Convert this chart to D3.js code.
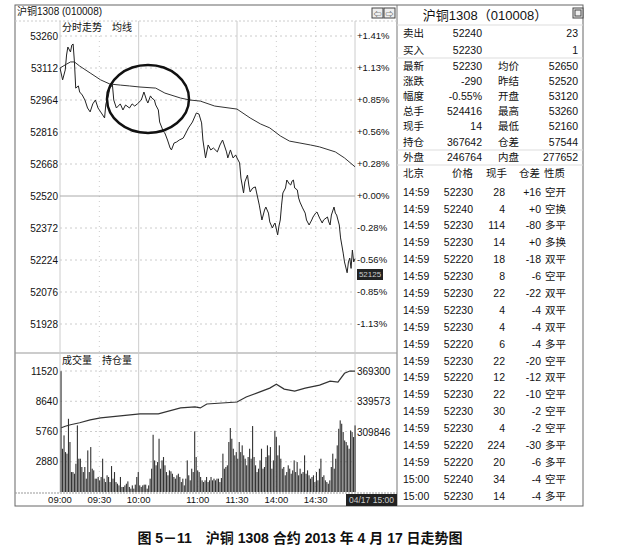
<!DOCTYPE html>
<html>
<head>
<meta charset="utf-8">
<script src="https://cdn.jsdelivr.net/npm/d3@7"></script>
<style>
body{margin:0;background:#fff;}
text{font-family:"Liberation Sans",Arial,"Noto Sans CJK SC",sans-serif;fill:#111;}
</style>
</head>
<body>
<svg width="620" height="550"></svg>
<script>
const svg = d3.select("svg");

// ---- data ----
const priceTicks = [53260,53112,52964,52816,52668,52520,52372,52224,52076,51928];
const pctLabels = ["+1.41%","+1.13%","+0.85%","+0.56%","+0.28%","+0.00%","-0.28%","-0.56%","-0.85%","-1.13%"];
const volTicks = [11520,8640,5760,2880];
const oiTicks = [369300,339573,309846];
const timeLabels = ["09:00","09:30","10:00","11:00","11:30","14:00","14:30"];
const timeMinutes = [0,30,60,105,135,165,195];

// [minute of session, price]
const priceLine = [[0,53112],[2,53057],[4,53103],[5,53172],[6,53209],[8,53186],[9,53218],[10,53223],[11,53140],[12,53019],
  [14,53029],[15,53001],[17,52987],[19,52964],[21,52927],[23,52909],[25,52946],[27,52964],[29,52927],[31,52909],[34,52881],
  [35,52946],[37,52987],[38,53019],[40,53033],[41,52964],[43,52927],[46,52946],[48,52918],[50,52941],[53,52927],[55,52946],
  [57,52936],[59,52946],[62,52964],[64,53001],[66,52964],[67,52950],[69,52983],[70,52973],[72,52964],[73,52941],[75,52918],
  [76,52862],[79,52816],[80,52811],[82,52779],[84,52742],[85,52733],[87,52765],[89,52770],[91,52779],[94,52788],[96,52811],
  [98,52835],[101,52862],[103,52890],[104,52904],[106,52899],[108,52858],[109,52779],[111,52696],[113,52756],[115,52733],
  [117,52742],[120,52724],[122,52756],[124,52779],[127,52724],[128,52696],[130,52733],[132,52696],[134,52710],[135,52696],
  [137,52673],[138,52603],[140,52534],[141,52585],[143,52617],[144,52571],[145,52539],[147,52557],[149,52562],[150,52534],
  [152,52478],[154,52409],[156,52455],[157,52469],[159,52441],[160,52400],[162,52372],[163,52386],[164,52395],[166,52340],
  [167,52381],[168,52409],[169,52478],[170,52534],[172,52557],[173,52594],[175,52575],[176,52571],[177,52589],[178,52594],
  [179,52557],[181,52548],[182,52511],[183,52492],[185,52465],[187,52441],[188,52409],[190,52386],[192,52409],[193,52423],
  [195,52441],[196,52446],[198,52418],[200,52395],[201,52409],[204,52423],[205,52400],[206,52386],[207,52432],[209,52469],
  [210,52441],[211,52432],[213,52386],[214,52326],[216,52256],[217,52215],[219,52165],[220,52215],[221,52233],[222,52185],
  [223,52270],[224,52215],[225,52230]];

const avgLine = [[0,53112],[5,53130],[8,53140],[11,53140],[15,53121],[23,53089],[31,53057],[38,53038],[46,53033],[53,53029],
  [61,53024],[73,53019],[80,52996],[92,52973],[99,52964],[107,52959],[118,52936],[135,52922],[145,52881],[153,52853],
  [160,52835],[168,52798],[175,52774],[183,52765],[191,52756],[198,52747],[210,52724],[217,52696],[225,52655]];

const oiLine = [[1,314000],[4,315500],[8,316900],[15,318830],[23,321725],[31,323655],[46,325585],[61,327515],[75,327515],
  [92,333305],[103,334270],[107,333305],[112,337165],[135,339095],[142,343920],[152,348745],[160,352605],[165,356465],
  [171,351640],[179,349710],[187,352605],[198,355500],[206,359360],[212,358395],[217,367080],[221,369300],[225,369100]];

const volumes = [11500,4120,5390,3800,3650,6970,4760,1900,1900,1740,2690,6340,3170,3170,2380,1900,2380,1270,3960,1900,
  4280,2220,2060,1270,1270,1430,1110,1430,3170,1270,950,1590,1430,950,2470,1270,1900,950,790,630,1430,480,480,630,790,
  1010,480,320,630,320,700,1430,1900,630,480,630,700,700,320,630,1270,2220,5450,3010,2540,2850,5070,2220,3010,3330,2540,
  1900,1590,2060,1970,1740,1430,1270,1590,1740,1430,950,1270,630,1270,3010,1590,1110,2220,1900,5770,3330,2060,1900,1430,
  1110,950,1110,1430,950,1110,1430,1110,1270,1110,1270,1270,950,1330,3650,2220,2380,2540,4760,6090,5070,4120,3490,3800,
  3170,4760,3800,4440,3490,3170,2540,3330,4120,3170,6280,3330,2540,1900,2220,3010,4120,2220,2380,3330,4440,3490,4280,2220,
  3010,5830,5230,3490,4440,3170,2220,2380,1590,1900,2540,2220,1740,2060,3010,1900,2850,1590,2220,1740,1900,3490,1740,2060,
  1590,1270,1430,1590,950,1900,1110,2220,3170,1430,1590,1110,950,790,1110,2380,3650,2220,3170,4440,6020,6820,6500,5710,
  4910,4760,4440,4120,5860,5710,5230,6340];

// right-hand quote table
const quoteLabels = ["卖出","买入","最新","涨跌","幅度","总手","现手","持仓","外盘"];
const quoteValues = ["52240","52230","52230","-290","-0.55%","524416","14","367642","246764"];
const quoteLabels2 = ["","","均价","昨结","开盘","最高","最低","仓差","内盘"];
const quoteValues2 = ["23","1","52650","52520","53120","53260","52160","57544","277652"];
const tradeHeader = ["北京","价格","现手","仓差","性质"];
const tradeTime = ["14:59","14:59","14:59","14:59","14:59","14:59","14:59","14:59","14:59","14:59","14:59","14:59","14:59","14:59","14:59","14:59","14:59","15:00","15:00"];
const tradePrice = ["52230","52240","52230","52230","52220","52230","52230","52230","52230","52220","52230","52220","52230","52230","52230","52220","52220","52240","52230"];
const tradeVol = ["28","4","114","14","18","8","22","4","4","6","22","12","22","30","4","224","20","34","14"];
const tradeChg = ["+16","+0","-80","+0","-18","-6","-22","-4","-4","-4","-20","-12","-10","-2","-2","-30","-6","-4","-4"];
const tradeType = ["空开","空换","多平","多换","双平","空平","双平","双平","双平","多平","空平","双平","空平","空平","空平","多平","多平","空平","多平"];

// ---- scales ----
const x = d3.scaleLinear().domain([0,225]).range([60,355]);
const yPrice = d3.scaleLinear().domain([51928,53260]).range([324,36]);
const yVol = d3.scaleLinear().domain([0,11520]).range([492,371]);
const yOI = d3.scaleLinear().domain([309846,369300]).range([432,371]);
const xBar = d3.scaleLinear().domain([0,volumes.length-1]).range([61,355]);

// frames
svg.append("rect").attr("x",15).attr("y",5).attr("width",568).attr("height",501)
  .attr("fill","none").attr("stroke","#666").attr("stroke-width",1);
svg.append("line").attr("x1",397).attr("x2",397).attr("y1",5).attr("y2",506).attr("stroke","#777");
svg.append("line").attr("x1",15).attr("x2",397).attr("y1",21).attr("y2",21).attr("stroke","#ccc").attr("stroke-dasharray","2,2");
svg.append("line").attr("x1",15).attr("x2",397).attr("y1",353).attr("y2",353).attr("stroke","#999");
svg.append("line").attr("x1",15).attr("x2",397).attr("y1",493).attr("y2",493).attr("stroke","#999").attr("stroke-dasharray","2,1");

svg.append("text").attr("x",17).attr("y",15).attr("font-size",10).attr("font-family","Liberation Serif, Noto Sans CJK SC").text("沪铜1308 (010008)");

// small window buttons
[372,384].forEach((bx,i)=>{
  svg.append("rect").attr("x",bx).attr("y",8).attr("width",11).attr("height",10)
    .attr("fill","#eee").attr("stroke","#444");
  svg.append("text").attr("x",bx+5.5).attr("y",16.5).attr("text-anchor","middle").attr("font-size",8)
    .text(i==0?"⇦":"⇨");
});
svg.append("rect").attr("x",573).attr("y",8).attr("width",10).attr("height",10).attr("fill","#eee").attr("stroke","#444");
svg.append("rect").attr("x",575).attr("y",10).attr("width",6).attr("height",6).attr("fill","none").attr("stroke","#444");

// vertical grid
const solidV = [0,60,135,225], dotV = [30,105,165,195];
svg.selectAll("line.vs").data(solidV).join("line").attr("class","vs")
  .attr("x1",d=>x(d)).attr("x2",d=>x(d)).attr("y1",21).attr("y2",493).attr("stroke","#ccc");
svg.selectAll("line.vd").data(dotV).join("line").attr("class","vd")
  .attr("x1",d=>x(d)).attr("x2",d=>x(d)).attr("y1",21).attr("y2",493).attr("stroke","#ccc").attr("stroke-dasharray","1,4");

// horizontal grid, price
svg.selectAll("line.hp").data(priceTicks).join("line").attr("class","hp")
  .attr("x1",60).attr("x2",355).attr("y1",d=>yPrice(d)).attr("y2",d=>yPrice(d))
  .attr("stroke",d=>d==52520?"#aaa":"#ccc").attr("stroke-dasharray",d=>d==52520?null:"2,3");
svg.selectAll("text.pl").data(priceTicks).join("text").attr("class","pl")
  .attr("x",58).attr("y",d=>yPrice(d)).attr("dy","0.35em").attr("text-anchor","end").attr("font-size",10)
  .text(d=>d);
svg.selectAll("text.pp").data(pctLabels).join("text").attr("class","pp")
  .attr("x",357).attr("y",(d,i)=>yPrice(priceTicks[i])).attr("dy","0.35em").attr("font-size",9.5)
  .attr("font-family","Liberation Mono, monospace").text(d=>d);

// horizontal grid, volume
svg.selectAll("line.hv").data(volTicks).join("line").attr("class","hv")
  .attr("x1",60).attr("x2",355).attr("y1",d=>yVol(d)).attr("y2",d=>yVol(d))
  .attr("stroke","#ccc").attr("stroke-dasharray","2,3");
svg.selectAll("text.vl").data(volTicks).join("text").attr("class","vl")
  .attr("x",58).attr("y",d=>yVol(d)).attr("dy","0.35em").attr("text-anchor","end").attr("font-size",10)
  .text(d=>d);
svg.selectAll("text.ol").data(oiTicks).join("text").attr("class","ol")
  .attr("x",357).attr("y",d=>yOI(d)).attr("dy","0.35em").attr("font-size",10)
  .text(d=>d);

// panel titles
svg.append("text").attr("x",62).attr("y",31).attr("font-size",10).attr("font-family","Noto Sans CJK SC").text("分时走势　均线");
svg.append("text").attr("x",62).attr("y",364).attr("font-size",10).attr("font-family","Noto Sans CJK SC").text("成交量　持仓量");

// volume bars
svg.selectAll("rect.vol").data(volumes).join("rect").attr("class","vol")
  .attr("x",(d,i)=>xBar(i)-0.5).attr("width",1.1)
  .attr("y",d=>yVol(d)).attr("height",d=>yVol(0)-yVol(d)).attr("fill","#333");

// lines
const pLine = d3.line().x(d=>x(d[0])).y(d=>yPrice(d[1]));
svg.append("path").datum(avgLine).attr("d",pLine).attr("fill","none").attr("stroke","#333").attr("stroke-width",1);
svg.append("path").datum(priceLine).attr("d",pLine).attr("fill","none").attr("stroke","#222").attr("stroke-width",1);
svg.append("path").datum(oiLine).attr("d",d3.line().x(d=>x(d[0])).y(d=>yOI(d[1])))
  .attr("fill","none").attr("stroke","#333").attr("stroke-width",1.2);

// circled area
svg.append("ellipse").attr("cx",148).attr("cy",99).attr("rx",41).attr("ry",34)
  .attr("fill","none").attr("stroke","#111").attr("stroke-width",2.5);

// cursor price tag
svg.append("rect").attr("x",357).attr("y",269).attr("width",26).attr("height",11).attr("fill","#222");
svg.append("text").attr("x",370).attr("y",274.5).attr("dy","0.35em").attr("text-anchor","middle")
  .attr("font-size",8).style("fill","#ccc").text("52125");

// time axis
svg.selectAll("text.tl").data(timeLabels).join("text").attr("class","tl")
  .attr("x",(d,i)=>x(timeMinutes[i])).attr("y",500).attr("dy","0.35em").attr("text-anchor","middle")
  .attr("font-size",9.5).attr("font-family","Liberation Mono, monospace").text(d=>d);
svg.append("rect").attr("x",346).attr("y",494).attr("width",51).attr("height",12).attr("fill","#222");
svg.append("text").attr("x",371.5).attr("y",500).attr("dy","0.35em").attr("text-anchor","middle")
  .attr("font-size",8.5).attr("font-family","Liberation Mono, monospace").style("fill","#ccc").text("04/17 15:00");

// ---- right panel ----
svg.append("text").attr("x",485).attr("y",15).attr("dy","0.35em").attr("text-anchor","middle").attr("font-size",13)
  .attr("font-family","Liberation Serif, Noto Sans CJK SC").text("沪铜1308（010008）");
[25,58,150,165].forEach(ly=>{
  svg.append("line").attr("x1",397).attr("x2",583).attr("y1",ly).attr("y2",ly).attr("stroke","#ddd");
});
const qy = i => i<2 ? 33+i*17 : 66+(i-2)*15.2;
svg.selectAll("text.q1").data(quoteLabels).join("text").attr("class","q1")
  .attr("x",403).attr("y",(d,i)=>qy(i)).attr("dy","0.35em").attr("font-size",10.5).text(d=>d);
svg.selectAll("text.q2").data(quoteValues).join("text").attr("class","q2")
  .attr("x",482).attr("y",(d,i)=>qy(i)).attr("dy","0.35em").attr("text-anchor","end").attr("font-size",10.5).text(d=>d);
svg.selectAll("text.q3").data(quoteLabels2).join("text").attr("class","q3")
  .attr("x",498).attr("y",(d,i)=>qy(i)).attr("dy","0.35em").attr("font-size",10.5).text(d=>d);
svg.selectAll("text.q4").data(quoteValues2).join("text").attr("class","q4")
  .attr("x",578).attr("y",(d,i)=>qy(i)).attr("dy","0.35em").attr("text-anchor","end").attr("font-size",10.5).text(d=>d);

const headX = [403,452,486,519,544];
svg.selectAll("text.th").data(tradeHeader).join("text").attr("class","th")
  .attr("x",(d,i)=>headX[i]).attr("y",173).attr("dy","0.35em").attr("font-size",10.5).text(d=>d);

const ty = d3.scaleLinear().domain([0,18]).range([192,496]);
const cols = [[tradeTime,403,"start"],[tradePrice,473,"end"],[tradeVol,505,"end"],[tradeChg,541,"end"],[tradeType,545,"start"]];
cols.forEach((c,k)=>{
  svg.selectAll("text.tc"+k).data(c[0]).join("text").attr("class","tc"+k)
    .attr("x",c[1]).attr("y",(d,i)=>ty(i)).attr("dy","0.35em").attr("text-anchor",c[2])
    .attr("font-size",10.5).text(d=>d);
});

// caption
svg.append("text").attr("x",300).attr("y",538).attr("dy","0.35em").attr("text-anchor","middle")
  .attr("font-size",14).attr("font-weight","bold").attr("font-family","Liberation Serif, Noto Sans CJK SC")
  .text("图 5－11　沪铜 1308 合约 2013 年 4 月 17 日走势图");
</script>
</body>
</html>
